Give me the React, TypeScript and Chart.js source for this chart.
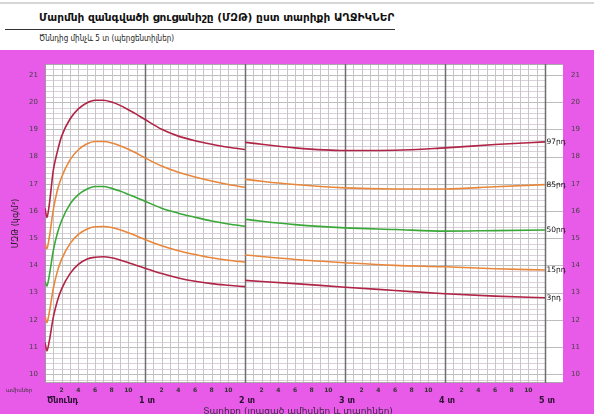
import React, { useEffect, useRef } from "react";
import { Chart, registerables } from "chart.js";

Chart.register(...registerables);

// ---- data ----
const monthsA = [0, 0.23, 0.5, 1, 1.5, 2, 3, 4, 5, 6, 7, 8, 9, 10, 11, 12, 14, 16, 18, 20, 22, 24];
const monthsB = [24, 30, 36, 42, 48, 54, 60];

const p97A = [16.1, 15.76, 16.2, 17.5, 18.2, 18.75, 19.38, 19.75, 19.97, 20.07, 20.07, 20.0, 19.88, 19.72, 19.55, 19.36, 19.0, 18.75, 18.58, 18.45, 18.34, 18.26];
const p85A = [14.8, 14.61, 15.0, 16.05, 16.78, 17.25, 17.88, 18.25, 18.46, 18.55, 18.55, 18.5, 18.4, 18.27, 18.12, 17.95, 17.65, 17.42, 17.25, 17.1, 16.97, 16.87];
const p50A = [13.42, 13.24, 13.6, 14.55, 15.2, 15.65, 16.25, 16.6, 16.8, 16.9, 16.9, 16.83, 16.73, 16.61, 16.49, 16.36, 16.1, 15.92, 15.77, 15.63, 15.52, 15.44];
const p15A = [12.14, 11.9, 12.25, 13.16, 13.79, 14.23, 14.8, 15.14, 15.33, 15.42, 15.43, 15.39, 15.31, 15.2, 15.08, 14.95, 14.72, 14.54, 14.4, 14.28, 14.19, 14.12];
const p3A = [11.17, 10.86, 11.2, 12.1, 12.71, 13.14, 13.7, 14.04, 14.23, 14.3, 14.32, 14.28, 14.2, 14.1, 14.0, 13.9, 13.7, 13.54, 13.42, 13.33, 13.27, 13.22];

const p97B = [18.52, 18.32, 18.22, 18.23, 18.32, 18.44, 18.54];
const p85B = [17.16, 16.97, 16.85, 16.81, 16.81, 16.89, 16.97];
const p50B = [15.69, 15.5, 15.38, 15.32, 15.26, 15.28, 15.3];
const p15B = [14.38, 14.22, 14.1, 14.0, 13.95, 13.88, 13.83];
const p3B = [13.45, 13.33, 13.2, 13.08, 12.96, 12.87, 12.81];

const percentileLabels = ["97րդ", "85րդ", "50րդ", "15րդ", "3րդ"];
const yearLabels = ["Ծնունդ", "1 տ", "2 տ", "3 տ", "4 տ", "5 տ"];
const yTickValues = [10, 11, 12, 13, 14, 15, 16, 17, 18, 19, 20, 21];
const monthTickValues = Array.from({ length: 61 }, (_, i) => i);

const titleText = "Մարմնի զանգվածի ցուցանիշը (ՄԶԹ) ըստ տարիքի  ԱՂՋԻԿՆԵՐ";
const subtitleText = "Ծննդից մինչև 5 տ (պերցենտիլներ)";
const yTitle = "ՄԶԹ (կգ/մ²)";
const xTitle = "Տարիքը (լրացած ամիսներ և տարիներ)";
const monthsWord = "ամիսներ";

const RED = "#b02446";
const ORANGE = "#e8873c";
const GREEN = "#3aa838";
const FONT = '"DejaVu Sans", sans-serif';

const seriesA = [p97A, p85A, p50A, p15A, p3A];
const seriesB = [p97B, p85B, p50B, p15B, p3B];
const colors = [RED, ORANGE, GREEN, ORANGE, RED];

const gridPlugin = {
  id: "gridPlugin",
  beforeDatasetsDraw(chart: any) {
    const { ctx, chartArea: a, scales } = chart;
    const x = scales.x;
    const y = scales.y;
    const x60 = x.getPixelForValue(60);
    ctx.save();
    ctx.fillStyle = "#ffffff";
    ctx.fillRect(a.left, a.top, a.right - a.left, a.bottom - a.top);
    ctx.lineWidth = 1;
    for (let i = 49; i <= 107; i++) {
      if (i % 5 === 0) continue;
      const py = Math.round(y.getPixelForValue(i / 5)) + 0.5;
      ctx.strokeStyle = "#d9d0d9";
      ctx.beginPath();
      ctx.moveTo(a.left, py);
      ctx.lineTo(x60, py);
      ctx.stroke();
    }
    for (const v of yTickValues) {
      const py = Math.round(y.getPixelForValue(v)) + 0.5;
      ctx.strokeStyle = "#bdbdbd";
      ctx.beginPath();
      ctx.moveTo(a.left, py);
      ctx.lineTo(a.right, py);
      ctx.stroke();
    }
    for (let m = 1; m < 60; m++) {
      if (m % 12 === 0) continue;
      const px = Math.round(x.getPixelForValue(m)) + 0.5;
      ctx.strokeStyle = "#c6c6c6";
      ctx.beginPath();
      ctx.moveTo(px, a.top);
      ctx.lineTo(px, a.bottom);
      ctx.stroke();
    }
    ctx.strokeStyle = "#aaaaaa";
    ctx.beginPath();
    ctx.moveTo(a.left, a.top + 0.5);
    ctx.lineTo(a.right, a.top + 0.5);
    ctx.moveTo(a.left, a.bottom - 0.5);
    ctx.lineTo(a.right, a.bottom - 0.5);
    ctx.stroke();
    for (let k = 0; k <= 5; k++) {
      const px = Math.round(x.getPixelForValue(k * 12)) + 0.5;
      ctx.strokeStyle = k === 0 ? "#9a9a9a" : "#6e6e6e";
      ctx.lineWidth = k === 0 ? 1 : 1.5;
      ctx.beginPath();
      ctx.moveTo(px, a.top);
      ctx.lineTo(px, a.bottom);
      ctx.stroke();
    }
    ctx.restore();
  },
  afterDatasetsDraw(chart: any) {
    const { ctx, chartArea: a, scales } = chart;
    const x = scales.x;
    const y = scales.y;
    ctx.save();
    ctx.fillStyle = "#111";
    ctx.font = `7.5px ${FONT}`;
    ctx.textAlign = "left";
    ctx.textBaseline = "middle";
    seriesB.forEach((s, i) => {
      const py = y.getPixelForValue(s[s.length - 1]);
      ctx.fillText(percentileLabels[i], x.getPixelForValue(60) + 1.5, py);
    });
    ctx.font = `bold 8px ${FONT}`;
    ctx.fillStyle = "#2a1030";
    ctx.textBaseline = "middle";
    yearLabels.forEach((lab, k) => {
      const px = x.getPixelForValue(k * 12);
      ctx.textAlign = k === 0 ? "left" : "center";
      ctx.fillText(lab, px + 2, a.bottom + 18);
    });
    ctx.font = `5.5px ${FONT}`;
    ctx.textAlign = "left";
    ctx.fillStyle = "#333";
    ctx.fillText(monthsWord, 6, a.bottom + 7.5);
    ctx.font = `9px ${FONT}`;
    ctx.textAlign = "center";
    ctx.textBaseline = "alphabetic";
    ctx.fillStyle = "#3a2a40";
    ctx.fillText(xTitle, 298, a.bottom + 31);
    ctx.restore();
  },
};

export default function App() {
  const ref = useRef<HTMLCanvasElement | null>(null);

  useEffect(() => {
    if (!ref.current) return;
    const datasets: any[] = [];
    const mk = (months: number[], s: number[], c: string) => ({
      data: months.map((m, j) => ({ x: m, y: s[j] })),
      borderColor: c,
      borderWidth: 1.6,
      pointRadius: 0,
      cubicInterpolationMode: "monotone",
      fill: false,
    });
    seriesA.forEach((s, i) => datasets.push(mk(monthsA, s, colors[i])));
    seriesB.forEach((s, i) => datasets.push(mk(monthsB, s, colors[i])));

    const chart = new Chart(ref.current, {
      type: "line",
      data: { datasets },
      plugins: [gridPlugin],
      options: {
        responsive: false,
        animation: false,
        layout: { padding: { top: 14, left: 0, right: 0, bottom: 0 } },
        plugins: { legend: { display: false }, tooltip: { enabled: false } },
        scales: {
          x: {
            type: "linear",
            min: 0,
            max: 62.16,
            grid: { display: false, drawTicks: false },
            border: { display: false },
            afterBuildTicks: (scale: any) => {
              scale.ticks = monthTickValues.map((v) => ({ value: v }));
            },
            afterFit: (scale: any) => {
              scale.height = 31;
            },
            ticks: {
              autoSkip: false,
              maxRotation: 0,
              padding: 4,
              color: "#333",
              font: { size: 6, family: FONT, weight: "bold" },
              callback: (v: any) => {
                const n = Number(v);
                return n % 12 !== 0 && n % 2 === 0 ? String(n % 12) : "";
              },
            },
          },
          y: {
            min: 9.68,
            max: 21.4,
            position: "left",
            grid: { display: false, drawTicks: false },
            border: { display: false },
            afterBuildTicks: (scale: any) => {
              scale.ticks = yTickValues.map((v) => ({ value: v }));
            },
            afterFit: (scale: any) => {
              scale.width = 45;
            },
            ticks: {
              padding: 7,
              color: "#444",
              font: { size: 7, family: FONT },
            },
            title: {
              display: true,
              text: yTitle,
              color: "#222",
              font: { size: 8, family: FONT },
              padding: { top: 11, bottom: 0 },
            },
          },
          yR: {
            min: 9.68,
            max: 21.4,
            position: "right",
            grid: { display: false, drawTicks: false },
            border: { display: false },
            afterBuildTicks: (scale: any) => {
              scale.ticks = yTickValues.map((v) => ({ value: v }));
            },
            afterFit: (scale: any) => {
              scale.width = 31;
            },
            ticks: {
              padding: 8,
              color: "#444",
              font: { size: 7, family: FONT },
            },
          },
        },
      },
    } as any);
    return () => chart.destroy();
  }, []);

  return (
    <div
      style={{
        position: "fixed",
        left: 0,
        top: 0,
        width: 594,
        height: 414,
        background: "#ffffff",
        overflow: "hidden",
        fontFamily: FONT,
      }}
    >
      <div style={{ position: "absolute", left: 0, top: 2, width: 594, height: 2, background: "#d6d6d6" }} />
      <div
        style={{
          position: "absolute",
          left: 39,
          top: 11,
          fontSize: 11,
          fontWeight: "bold",
          whiteSpace: "nowrap",
          color: "#111",
          lineHeight: "14px",
          transform: "scaleX(0.96)",
          transformOrigin: "left center",
        }}
      >
        {titleText}
      </div>
      <div style={{ position: "absolute", left: 5, top: 29, width: 390, height: 1, background: "#333" }} />
      <div
        style={{
          position: "absolute",
          left: 39,
          top: 32,
          fontSize: 9,
          whiteSpace: "nowrap",
          color: "#222",
          lineHeight: "12px",
          transform: "scaleX(0.8)",
          transformOrigin: "left center",
        }}
      >
        {subtitleText}
      </div>
      <div style={{ position: "absolute", left: 0, top: 50, width: 594, height: 364, background: "#e85ae8" }}>
        <canvas ref={ref} width={594} height={364} style={{ display: "block" }} />
      </div>
    </div>
  );
}
